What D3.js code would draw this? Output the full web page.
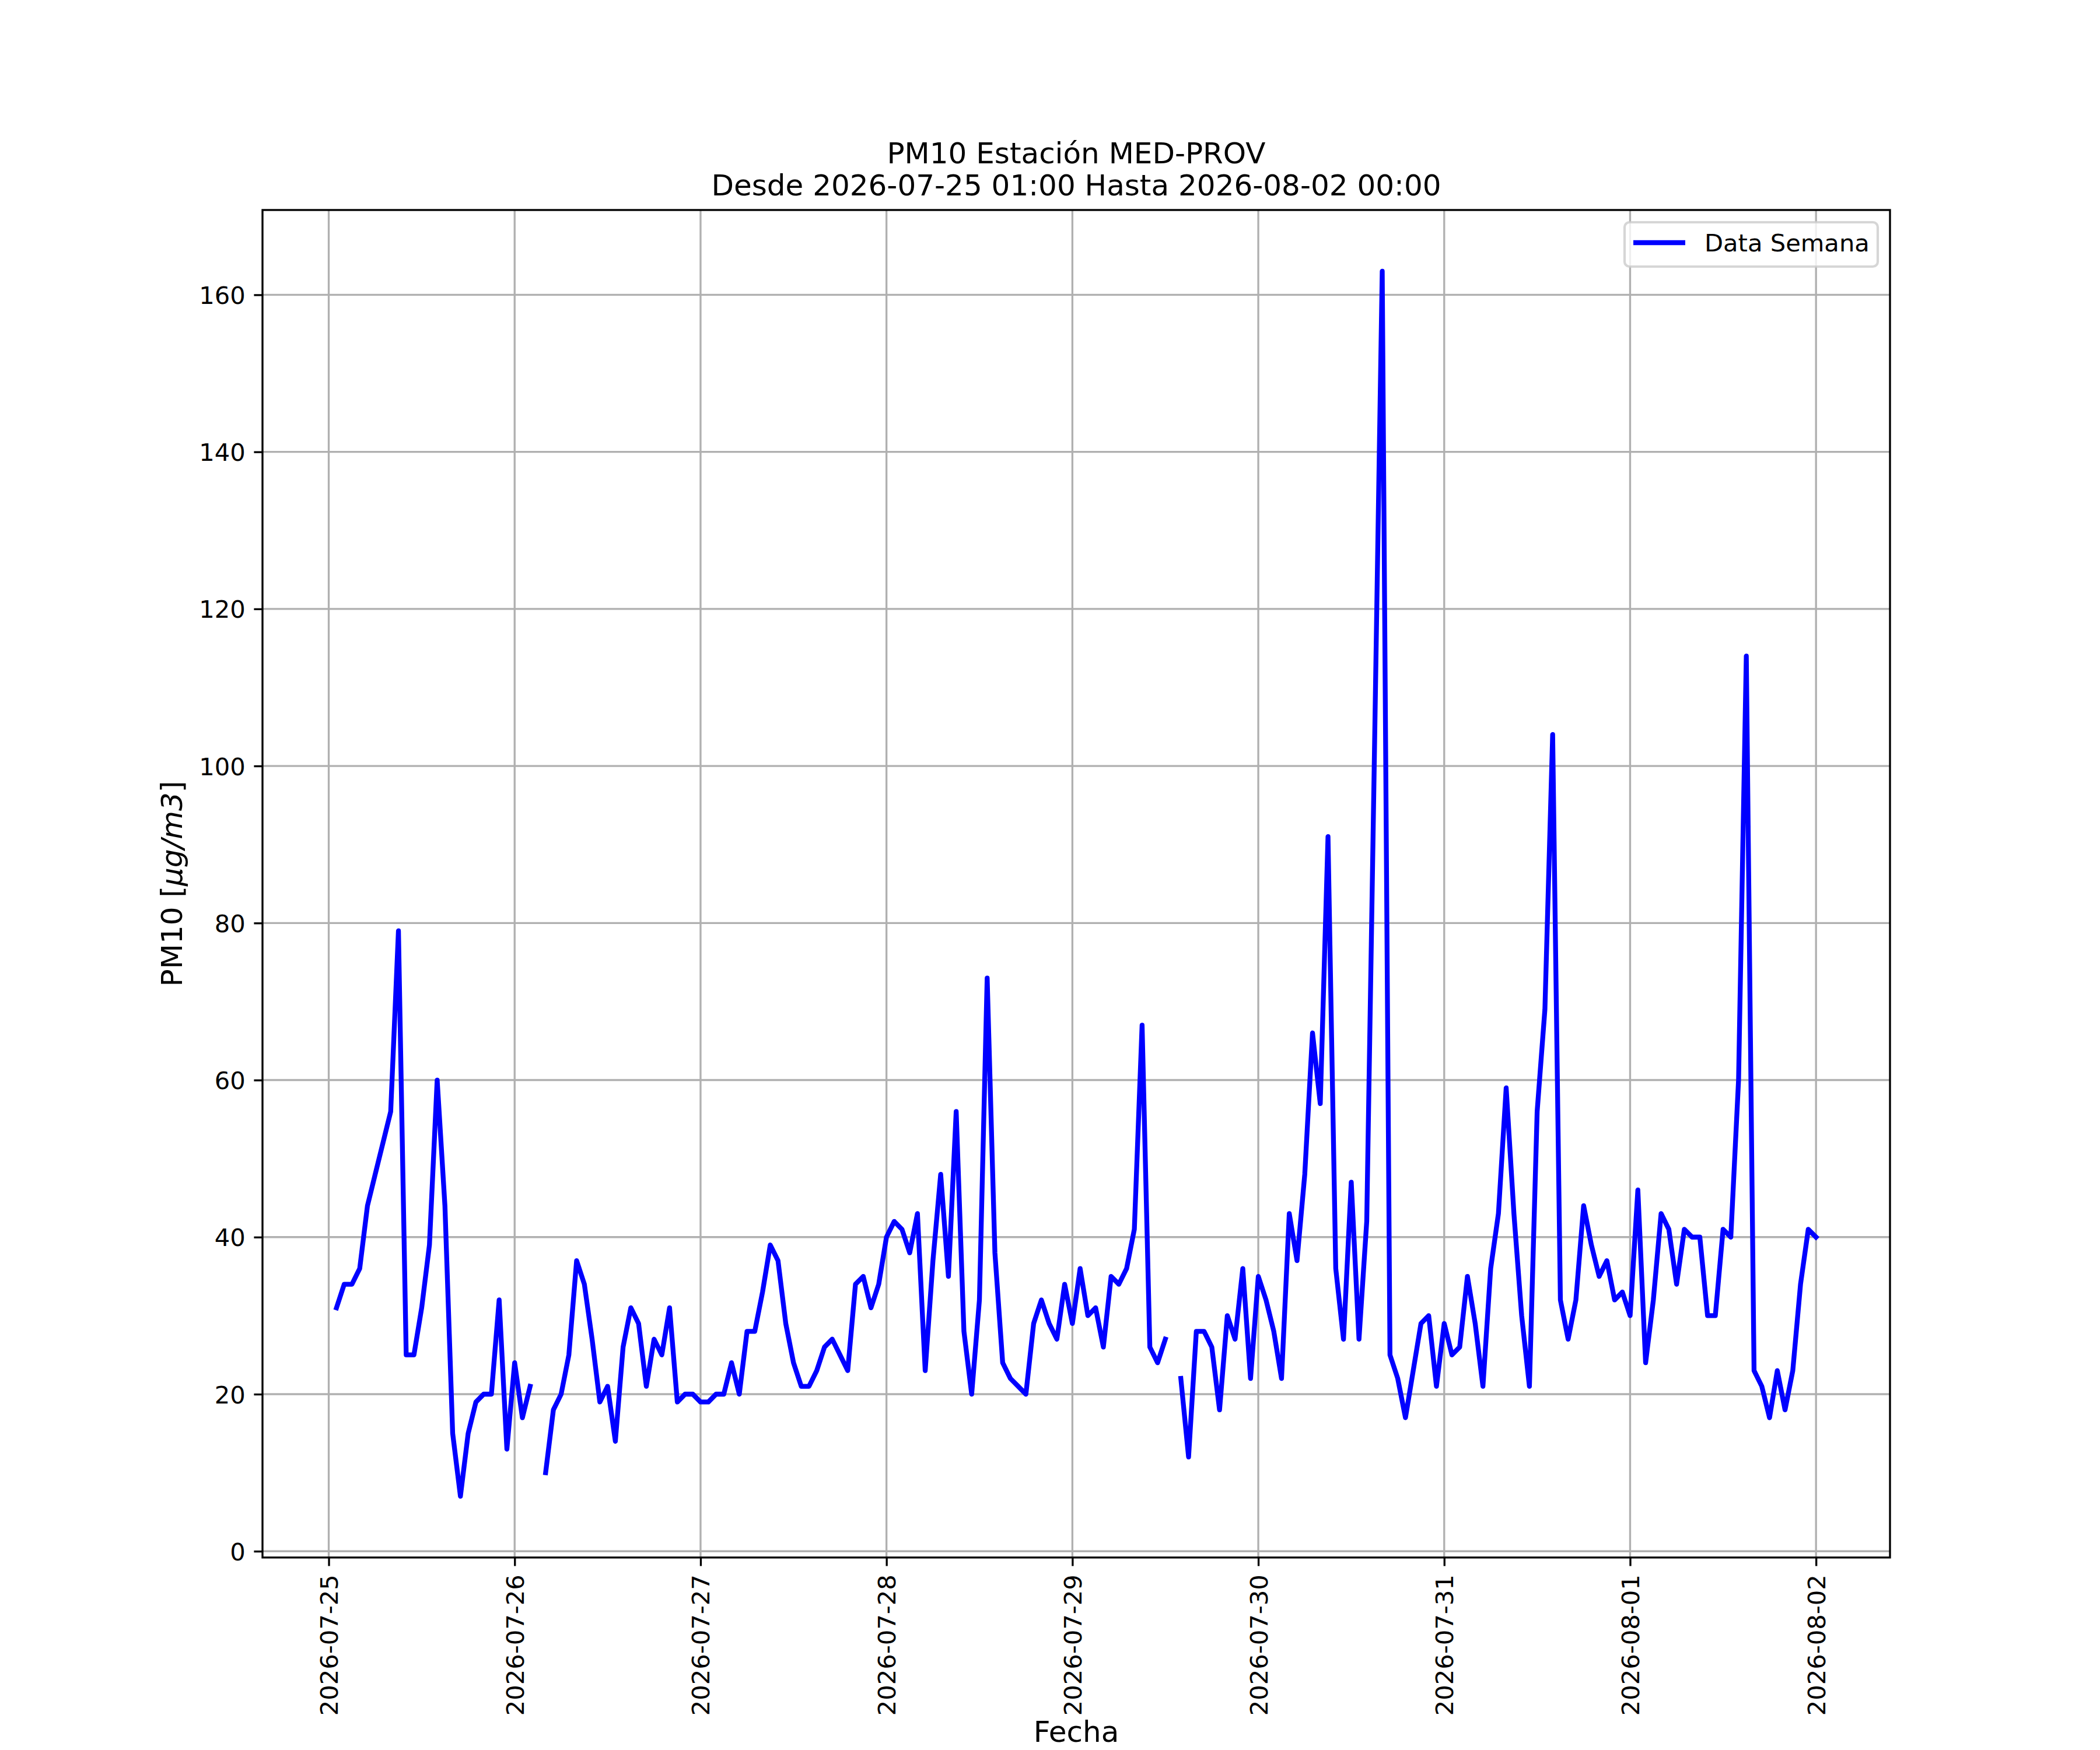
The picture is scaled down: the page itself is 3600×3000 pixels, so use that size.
<!DOCTYPE html>
<html>
<head>
<meta charset="utf-8">
<script src="https://cdn.jsdelivr.net/npm/d3@7"></script>
<style>
  html, body { margin: 0; padding: 0; background: #ffffff; }
  svg { display: block; }
  text { font-family: "DejaVu Sans", sans-serif; fill: #000; }
</style>
</head>
<body>
<svg id="chart" width="3600" height="3000"></svg>
<script>
// ---------------- DATA ----------------
const titleLines = ["PM10 Estación MED-PROV", "Desde 2026-07-25 01:00 Hasta 2026-08-02 00:00"];
const seriesName = "Data Semana";
const xLabel = "Fecha";
const startTime = "2026-07-25T01:00:00Z"; // first hourly reading
// hourly PM10 values (null = missing reading)
const pm10 = [
  31, 34, 34, 36, 44, 48, 52, 56, 79, 25, 25, 31, 39, 60, 44, 15, 7, 15, 19, 20, 20, 32, 13, 24,
  17, 21, null, 10, 18, 20, 25, 37, 34, 27, 19, 21, 14, 26, 31, 29, 21, 27, 25, 31, 19, 20, 20, 19,
  19, 20, 20, 24, 20, 28, 28, 33, 39, 37, 29, 24, 21, 21, 23, 26, 27, 25, 23, 34, 35, 31, 34, 40,
  42, 41, 38, 43, 23, 37, 48, 35, 56, 28, 20, 32, 73, 38, 24, 22, 21, 20, 29, 32, 29, 27, 34, 29,
  36, 30, 31, 26, 35, 34, 36, 41, 67, 26, 24, 27, null, 22, 12, 28, 28, 26, 18, 30, 27, 36, 22, 35,
  32, 28, 22, 43, 37, 48, 66, 57, 91, 36, 27, 47, 27, 42, 102, 163, 25, 22, 17, 23, 29, 30, 21, 29,
  25, 26, 35, 29, 21, 36, 43, 59, 43, 30, 21, 56, 69, 104, 32, 27, 32, 44, 39, 35, 37, 32, 33, 30,
  46, 24, 32, 43, 41, 34, 41, 40, 40, 30, 30, 41, 40, 60, 114, 23, 21, 17, 23, 18, 23, 34, 41, 40
];
const xTickLabels = ["2026-07-25", "2026-07-26", "2026-07-27", "2026-07-28", "2026-07-29",
                     "2026-07-30", "2026-07-31", "2026-08-01", "2026-08-02"];
const yTicks = [0, 20, 40, 60, 80, 100, 120, 140, 160];

// ---------------- LAYOUT ----------------
const W = 3600, H = 3000;
const axL = 450, axR = 3240, axT = 360, axB = 2670;
const fsTick = 41.67, fsLabel = 50, fsTitle = 50;
const tickLen = 14.6, tickPad = 14.6;
const lineColor = "#0000ff", lineW = 8.3;
const gridColor = "#b0b0b0", gridW = 3.33, spineW = 3.33;

const svg = d3.select("#chart");
svg.append("rect").attr("width", W).attr("height", H).attr("fill", "#fff");

const parseUTC = d3.utcParse("%Y-%m-%dT%H:%M:%SZ");
const t0 = parseUTC(startTime);
const data = pm10.map((v, i) => ({ t: d3.utcHour.offset(t0, i), v }));

// matplotlib-style 5% margins
const tExt = d3.extent(data, d => d.t);
const tPad = (tExt[1] - tExt[0]) * 0.05;
const vExt = d3.extent(data.filter(d => d.v != null), d => d.v);
const vPad = (vExt[1] - vExt[0]) * 0.05;

const x = d3.scaleUtc()
  .domain([new Date(+tExt[0] - tPad), new Date(+tExt[1] + tPad)])
  .range([axL, axR]);
const y = d3.scaleLinear()
  .domain([vExt[0] - vPad, vExt[1] + vPad])
  .range([axB, axT]);

const parseDay = d3.utcParse("%Y-%m-%d");
const xTicks = xTickLabels.map(s => parseDay(s));

// ---------------- GRID ----------------
const grid = svg.append("g");
grid.selectAll("line.gx").data(xTicks).join("line")
  .attr("x1", d => x(d)).attr("x2", d => x(d))
  .attr("y1", axT).attr("y2", axB)
  .attr("stroke", gridColor).attr("stroke-width", gridW);
grid.selectAll("line.gy").data(yTicks).join("line")
  .attr("x1", axL).attr("x2", axR)
  .attr("y1", d => y(d)).attr("y2", d => y(d))
  .attr("stroke", gridColor).attr("stroke-width", gridW);

// ---------------- LINE ----------------
const line = d3.line()
  .defined(d => d.v != null)
  .x(d => x(d.t))
  .y(d => y(d.v));
svg.append("path")
  .datum(data)
  .attr("d", line)
  .attr("fill", "none")
  .attr("stroke", lineColor)
  .attr("stroke-width", lineW)
  .attr("stroke-linejoin", "round")
  .attr("stroke-linecap", "square");

// ---------------- AXES ----------------
const xAxis = d3.axisBottom(x)
  .tickValues(xTicks)
  .tickSize(tickLen)
  .tickPadding(tickPad)
  .tickFormat((d, i) => xTickLabels[i]);
const gx = svg.append("g").attr("transform", `translate(0,${axB})`).call(xAxis);
gx.select(".domain").remove();
gx.selectAll(".tick line").attr("stroke", "#000").attr("stroke-width", spineW);
gx.selectAll(".tick text")
  .attr("font-size", fsTick)
  .attr("font-family", "DejaVu Sans")
  .attr("fill", "#000")
  .attr("text-anchor", "end")
  .attr("x", 0).attr("y", 0).attr("dy", "0.36em")
  .attr("transform", `translate(0,${tickLen + tickPad}) rotate(-90)`);

const yAxis = d3.axisLeft(y)
  .tickValues(yTicks)
  .tickSize(tickLen)
  .tickPadding(tickPad)
  .tickFormat(d3.format("d"));
const gy = svg.append("g").attr("transform", `translate(${axL},0)`).call(yAxis);
gy.select(".domain").remove();
gy.selectAll(".tick line").attr("stroke", "#000").attr("stroke-width", spineW);
gy.selectAll(".tick text")
  .attr("font-size", fsTick)
  .attr("font-family", "DejaVu Sans")
  .attr("fill", "#000")
  .attr("dy", "0.36em");

// spines
svg.append("rect")
  .attr("x", axL).attr("y", axT)
  .attr("width", axR - axL).attr("height", axB - axT)
  .attr("fill", "none").attr("stroke", "#000").attr("stroke-width", spineW);

// ---------------- LABELS ----------------
const cx = (axL + axR) / 2, cy = (axT + axB) / 2;
svg.append("text")
  .attr("x", cx).attr("y", 2986)
  .attr("text-anchor", "middle")
  .attr("font-size", fsLabel)
  .text(xLabel);

const yl = svg.append("text")
  .attr("transform", `translate(312,${cy}) rotate(-90)`)
  .attr("text-anchor", "middle")
  .attr("font-size", fsLabel);
yl.append("tspan").text("PM10 [");
yl.append("tspan").attr("font-style", "italic").text("μg/m3");
yl.append("tspan").text("]");

const titleY = [280, 335];
svg.selectAll("text.title").data(titleLines).join("text")
  .attr("class", "title")
  .attr("x", cx).attr("y", (d, i) => titleY[i])
  .attr("text-anchor", "middle")
  .attr("font-size", fsTitle)
  .text(d => d);

// ---------------- LEGEND ----------------
const lg = svg.append("g");
lg.append("rect")
  .attr("x", 2785).attr("y", 381)
  .attr("width", 434).attr("height", 76)
  .attr("rx", 8.3).attr("ry", 8.3)
  .attr("fill", "#fff").attr("fill-opacity", 0.8)
  .attr("stroke", "#cccccc").attr("stroke-opacity", 0.8)
  .attr("stroke-width", 4.17);
lg.append("line")
  .attr("x1", 2800).attr("x2", 2889)
  .attr("y1", 416).attr("y2", 416)
  .attr("stroke", lineColor).attr("stroke-width", lineW);
lg.append("text")
  .attr("x", 2922).attr("y", 431)
  .attr("font-size", fsTick)
  .text(seriesName);
</script>
</body>
</html>
